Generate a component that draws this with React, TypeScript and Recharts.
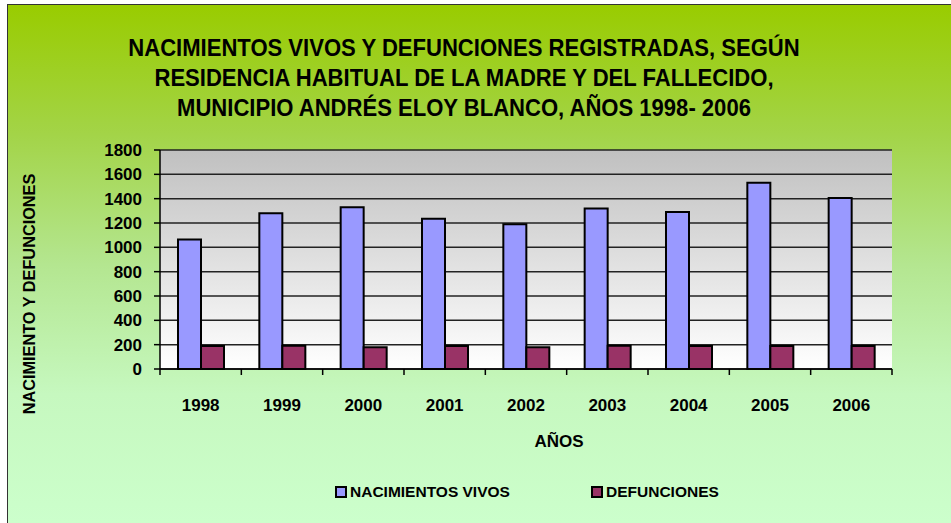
import React from 'react';
import {
  BarChart,
  Bar,
  XAxis,
  YAxis,
  CartesianGrid
} from 'recharts';

const years = ['1998', '1999', '2000', '2001', '2002', '2003', '2004', '2005', '2006'];
const nacimientos = [1065, 1280, 1330, 1235, 1190, 1320, 1290, 1530, 1405];
const defunciones = [190, 192, 178, 190, 178, 192, 190, 190, 190];
const yTicks = [0, 200, 400, 600, 800, 1000, 1200, 1400, 1600, 1800];

const data = years.map((y, i) => ({
  year: y,
  nacimientos: nacimientos[i],
  defunciones: defunciones[i]
}));

const W = 944;
const H = 519;
const X_H = 40;
const M = { top: 145, right: 60, left: 0, bottom: 519 - 364 - X_H };
const Y_W = 152;
const STEP = (W - M.left - M.right - Y_W) / years.length;

const SANS = '"Liberation Sans", Arial, sans-serif';

const XTick = (props: any) => {
  const { x, y, payload, index } = props;
  const left = x - STEP / 2;
  return (
    <g>
      <line x1={left} y1={y - 8} x2={left} y2={y - 2} stroke="#000" strokeWidth={1.5} />
      {index === years.length - 1 && (
        <line x1={x + STEP / 2} y1={y - 8} x2={x + STEP / 2} y2={y - 2} stroke="#000" strokeWidth={1.5} />
      )}
      <text x={x} y={y + 34} textAnchor="middle" fontFamily={SANS} fontWeight="bold" fontSize={17} fill="#000">
        {payload.value}
      </text>
    </g>
  );
};

const YTick = (props: any) => {
  const { x, y, payload } = props;
  return (
    <text x={x - 10} y={y + 6} textAnchor="end" fontFamily={SANS} fontWeight="bold" fontSize={17} fill="#000">
      {payload.value}
    </text>
  );
};

const legendItems = [
  { label: 'NACIMIENTOS VIVOS', color: '#9999ff', left: 327 },
  { label: 'DEFUNCIONES', color: '#993366', left: 583 }
];

const App = () => {
  return (
    <div
      style={{
        position: 'absolute',
        left: 7,
        top: 4,
        width: W,
        height: H,
        borderLeft: '1.5px solid #333',
        borderTop: '1.5px solid #333',
        background: 'linear-gradient(to bottom, #99cc00 0%, #a3d448 25%, #b4e690 50%, #c6f8bf 75%, #ccffcc 100%)',
        overflow: 'hidden'
      }}
    >
      <div
        style={{
          position: 'absolute',
          top: 28,
          left: 0,
          width: 912,
          textAlign: 'center',
          fontFamily: SANS,
          fontWeight: 'bold',
          fontSize: 24.5,
          lineHeight: '30px',
          color: '#000',
          transform: 'scaleX(0.9)',
          transformOrigin: '456px 0'
        }}
      >
        NACIMIENTOS VIVOS Y DEFUNCIONES REGISTRADAS, SEGÚN<br />
        RESIDENCIA HABITUAL DE LA MADRE Y DEL FALLECIDO,<br />
        MUNICIPIO ANDRÉS ELOY BLANCO, AÑOS 1998- 2006
      </div>
      <div
        style={{
          position: 'absolute',
          left: 21,
          top: 289,
          transform: 'translate(-50%, -50%) rotate(-90deg)',
          whiteSpace: 'nowrap',
          fontFamily: SANS,
          fontWeight: 'bold',
          fontSize: 16.3
        }}
      >
        NACIMIENTO Y DEFUNCIONES
      </div>
      <div
        style={{
          position: 'absolute',
          left: 551,
          top: 437,
          transform: 'translate(-50%, -50%)',
          fontFamily: SANS,
          fontWeight: 'bold',
          fontSize: 17
        }}
      >
        AÑOS
      </div>
      {legendItems.map((it) => (
        <div
          key={it.label}
          style={{
            position: 'absolute',
            left: it.left,
            top: 478,
            display: 'flex',
            alignItems: 'center',
            fontFamily: SANS,
            fontWeight: 'bold',
            fontSize: 15.5,
            whiteSpace: 'nowrap'
          }}
        >
          <span style={{ display: 'inline-block', width: 8, height: 8, background: it.color, border: '2px solid #000', marginRight: 3 }} />
          <span>{it.label}</span>
        </div>
      ))}
      <BarChart width={W} height={H} data={data} margin={M} barGap={0} barSize={23}>
        <defs>
          <linearGradient id="plotBg" x1="0" y1="0" x2="0" y2="1">
            <stop offset="0%" stopColor="#c0c0c0" />
            <stop offset="100%" stopColor="#ffffff" />
          </linearGradient>
        </defs>
        <CartesianGrid vertical={false} stroke="#222" strokeWidth={1.5} fill="url(#plotBg)" fillOpacity={1} />
        <XAxis
          dataKey="year"
          axisLine={{ stroke: '#000', strokeWidth: 1.5 }}
          tickLine={false}
          tick={<XTick />}
          interval={0}
          height={X_H}
        />
        <YAxis
          width={Y_W}
          domain={[0, 1800]}
          ticks={yTicks}
          interval={0}
          axisLine={{ stroke: '#000', strokeWidth: 1.5 }}
          tickLine={{ stroke: '#000', strokeWidth: 1.5 }}
          tickSize={6}
          tick={<YTick />}
        />
        <YAxis
          yAxisId="r"
          orientation="right"
          width={0}
          domain={[0, 1800]}
          tick={false}
          tickLine={false}
          axisLine={{ stroke: '#8a8a8a', strokeWidth: 2.5 }}
        />
        <Bar dataKey="nacimientos" name="NACIMIENTOS VIVOS" fill="#9999ff" stroke="#000" strokeWidth={2} isAnimationActive={false} />
        <Bar dataKey="defunciones" name="DEFUNCIONES" fill="#993366" stroke="#000" strokeWidth={2} isAnimationActive={false} />
      </BarChart>
    </div>
  );
};

export default App;
